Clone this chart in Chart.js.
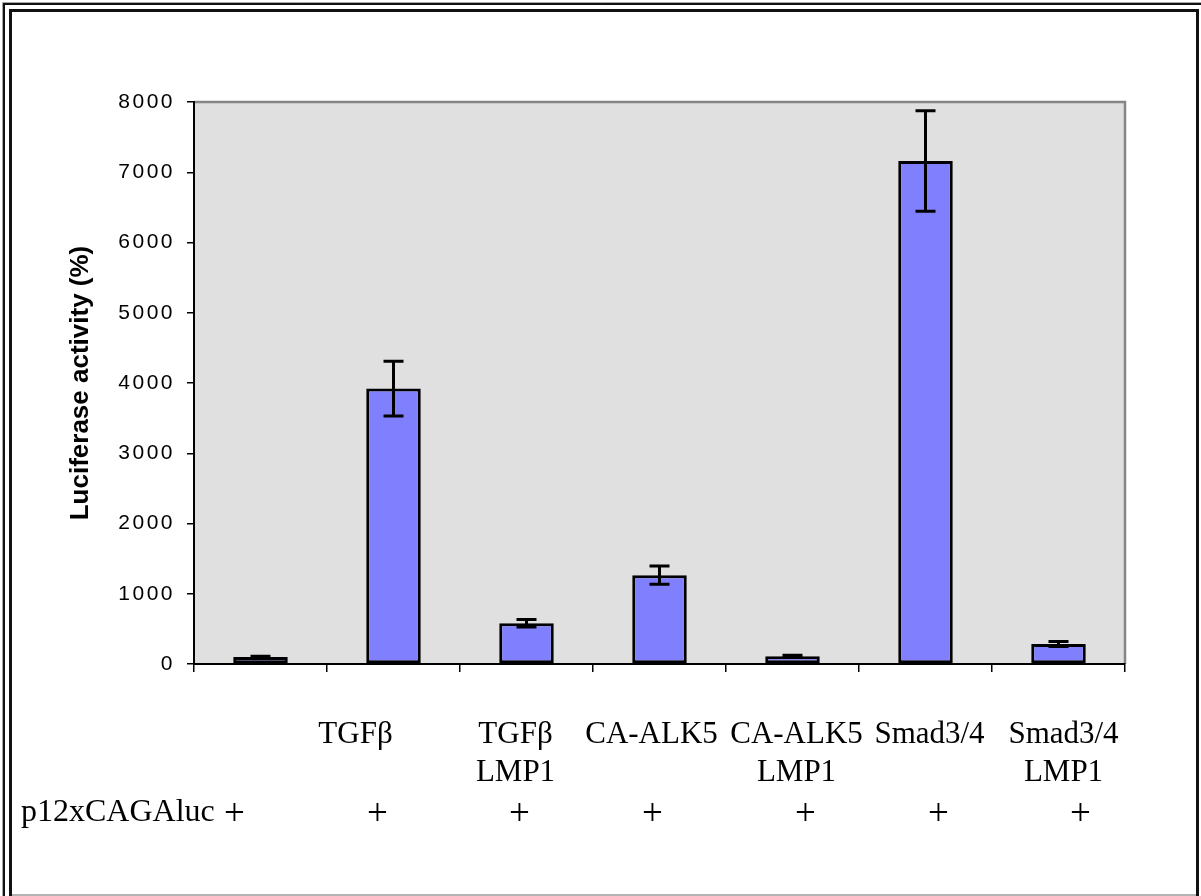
<!DOCTYPE html>
<html>
<head>
<meta charset="utf-8">
<script src="https://cdn.jsdelivr.net/npm/chart.js@4/dist/chart.umd.min.js"></script>
<style>
  html, body { margin: 0; padding: 0; background: #ffffff; overflow: hidden; }
  canvas { display: block; }
</style>
</head>
<body>
<canvas id="c" width="1201" height="896"></canvas>
<script>
// Treatments per lane (each entry is one or two lines of text under the axis)
const conditions = [
  [],
  ['TGFβ'],
  ['TGFβ', 'LMP1'],
  ['CA-ALK5'],
  ['CA-ALK5', 'LMP1'],
  ['Smad3/4'],
  ['Smad3/4', 'LMP1']
];
// Reporter row: every lane carries the reporter plasmid
const reporterName = 'p12xCAGAluc';
const reporterMarks = ['+', '+', '+', '+', '+', '+', '+'];
// Luciferase activity (%) and its error
const activity = [100, 3920, 580, 1265, 112, 7160, 285];
const activityErr = [12, 390, 55, 130, 12, 715, 35];
// Value-axis ticks
const yTicks = [0, 1000, 2000, 3000, 4000, 5000, 6000, 7000, 8000];

// Horizontal nudges for the free-standing text under each lane (pixels)
const LABEL_NUDGE = [0, -38, -11, -8, 4, 4, 5];
const MARK_NUDGE = [-26, -16, -7, -7, 13, 13, 22];

const pageFrame = {
  id: 'pageFrame',
  beforeDraw(chart) {
    const ctx = chart.ctx;
    const { left, top, right, bottom } = chart.chartArea;
    ctx.save();
    ctx.fillStyle = '#ffffff';
    ctx.fillRect(0, 0, chart.width, chart.height);
    // plot area
    ctx.fillStyle = '#e0e0e0';
    ctx.fillRect(left, top, right - left, bottom - top);
    ctx.strokeStyle = '#858585';
    ctx.lineWidth = 2.5;
    ctx.beginPath();
    ctx.moveTo(left, top);
    ctx.lineTo(right, top);
    ctx.lineTo(right, bottom);
    ctx.stroke();
    ctx.restore();

    // letter-spaced value-axis labels
    const s = chart.scales.y;
    if (s && !s._spaced) {
      const orig = s.drawLabels;
      s.drawLabels = function (area) {
        const c = this.ctx;
        const prev = c.letterSpacing;
        c.letterSpacing = '2.5px';
        orig.call(this, area);
        c.letterSpacing = prev || '0px';
      };
      s._spaced = true;
    }
  },
  afterDraw(chart) {
    const ctx = chart.ctx;
    const W = chart.width, H = chart.height;
    ctx.save();
    // double frame round the figure
    ctx.strokeStyle = '#a8a8a8';
    ctx.lineWidth = 1;
    ctx.beginPath();
    ctx.moveTo(2.5, H); ctx.lineTo(2.5, 2.5); ctx.lineTo(W, 2.5);
    ctx.stroke();
    ctx.strokeStyle = '#111111';
    ctx.lineWidth = 2;
    ctx.beginPath();
    ctx.moveTo(4, H); ctx.lineTo(4, 4); ctx.lineTo(W, 4);
    ctx.stroke();
    ctx.lineWidth = 3;
    ctx.beginPath();
    ctx.moveTo(10.5, H); ctx.lineTo(10.5, 10.5); ctx.lineTo(1197.5, 10.5); ctx.lineTo(1197.5, H);
    ctx.stroke();
    ctx.strokeStyle = '#b4b4b4';
    ctx.lineWidth = 2;
    ctx.beginPath();
    ctx.moveTo(12, 895); ctx.lineTo(1196, 895);
    ctx.stroke();

    // treatment text under the lanes
    const xs = chart.scales.x;
    const base = chart.chartArea.bottom;
    ctx.fillStyle = '#000000';
    ctx.textAlign = 'center';
    ctx.textBaseline = 'alphabetic';
    ctx.font = '31px "Liberation Serif", "Times New Roman", serif';
    conditions.forEach((lines, i) => {
      const x = xs.getPixelForValue(i) + LABEL_NUDGE[i];
      lines.forEach((t, k) => ctx.fillText(t, x, base + 79 + k * 38));
    });

    // reporter row
    ctx.textAlign = 'left';
    ctx.font = '32px "Liberation Serif", "Times New Roman", serif';
    ctx.fillText(reporterName, 21, base + 157);
    ctx.textAlign = 'center';
    ctx.font = '37px "Liberation Serif", "Times New Roman", serif';
    reporterMarks.forEach((m, i) => {
      const x = xs.getPixelForValue(i) + MARK_NUDGE[i];
      ctx.fillText(m, x, base + 161);
    });
    ctx.restore();
  }
};

const errorBars = {
  id: 'errorBars',
  afterDatasetsDraw(chart) {
    const ctx = chart.ctx;
    const y = chart.scales.y;
    const meta = chart.getDatasetMeta(0);
    ctx.save();
    ctx.strokeStyle = '#000000';
    ctx.lineWidth = 3;
    ctx.lineCap = 'butt';
    meta.data.forEach((bar, i) => {
      const v = activity[i], e = activityErr[i];
      const yTop = y.getPixelForValue(v + e);
      const yBot = y.getPixelForValue(v - e);
      const x = bar.x;
      ctx.beginPath();
      ctx.moveTo(x, yTop); ctx.lineTo(x, yBot);
      ctx.moveTo(x - 10, yTop); ctx.lineTo(x + 10, yTop);
      ctx.moveTo(x - 10, yBot); ctx.lineTo(x + 10, yBot);
      ctx.stroke();
    });
    ctx.restore();
  }
};

new Chart(document.getElementById('c'), {
  type: 'bar',
  data: {
    labels: conditions.map(l => l.join(' ')),
    datasets: [{
      data: activity,
      backgroundColor: '#8080ff',
      borderColor: '#000000',
      borderWidth: 3,
      borderSkipped: false,
      barPercentage: 0.41,
      categoryPercentage: 1.0
    }]
  },
  options: {
    responsive: false,
    devicePixelRatio: 1,
    animation: false,
    layout: { padding: { left: 0, top: 102, right: 76, bottom: 222 } },
    plugins: { legend: { display: false }, tooltip: { enabled: false } },
    scales: {
      x: {
        offset: true,
        grid: { display: true, drawOnChartArea: false, drawTicks: true, tickLength: 8, color: '#000000', lineWidth: 1.5 },
        border: { display: true, color: '#000000', width: 2 },
        ticks: { display: false },
        afterFit(scale) { scale.height = 10; }
      },
      y: {
        min: 0,
        max: 8000,
        afterBuildTicks(scale) { scale.ticks = yTicks.map(v => ({ value: v })); },
        grid: { display: true, drawOnChartArea: false, drawTicks: true, tickLength: 7, color: '#000000', lineWidth: 1.5 },
        border: { display: true, color: '#000000', width: 2 },
        ticks: {
          color: '#000000',
          padding: 12,
          font: { family: '"Liberation Sans", Arial, sans-serif', size: 21 },
          callback: (v) => String(v)
        },
        title: {
          display: true,
          text: 'Luciferase activity (%)',
          color: '#000000',
          font: { family: '"Liberation Sans", Arial, sans-serif', size: 26, weight: 'bold' },
          padding: { top: 65, bottom: 0 }
        },
        afterFit(scale) { scale.width = 194; }
      }
    }
  },
  plugins: [pageFrame, errorBars]
});
</script>
</body>
</html>
